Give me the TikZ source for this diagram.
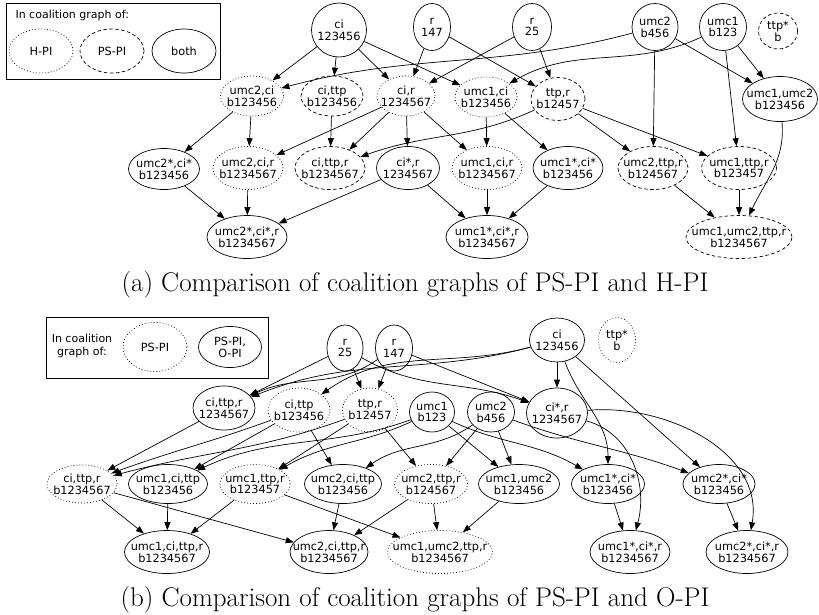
\documentclass[tikz,border=0pt]{standalone}
\usepackage{fontspec}
\newfontfamily\graphfont{DejaVu Sans}
\usetikzlibrary{arrows.meta, shapes.geometric}
\tikzset{
  coal/.style={ellipse,draw,align=center,inner xsep=-20pt,inner ysep=-8pt,minimum width=#1pt,minimum height=43pt,line width=0.7pt,font=\graphfont\fontsize{11.3}{11.8}\selectfont},
  coal/.default=68,
  root/.style={coal=#1,minimum height=47pt},
  root/.default=44,
  dotty/.style={dash pattern=on 0.8pt off 2.2pt},
  dashy/.style={dash pattern=on 3.5pt off 2.5pt},
  key/.style={font=\graphfont\fontsize{11}{13}\selectfont,align=center},
  caption/.style={font=\fontsize{27}{30}\selectfont,anchor=base,inner sep=0pt},
  line/.style={-{Triangle[length=8pt,width=6pt]},line width=0.7pt}
}

\begin{document}
\begin{tikzpicture}[x=1pt,y=-1pt]
\useasboundingbox (0,0) rectangle (819,614);

\draw[line width=0.7pt] (6,3) rectangle (220,79);
\node[key,anchor=west] (a-key) at (12,15) {In coalition graph of:};
\node[coal=64,minimum height=44pt,dotty] (a-hpi) at (41,51) {H-PI};
\node[coal=64,minimum height=44pt,dashy] (a-pspi) at (112,51) {PS-PI};
\node[coal=64,minimum height=44pt] (a-both) at (184,51) {both};

\node[root=55,minimum height=54pt] (a-ci) at (339,30) {ci\\123456};
\node[root=37] (a-r147) at (432,27) {r\\147};
\node[root=39] (a-r25) at (532,27) {r\\25};
\node[root=46] (a-umc2) at (655,27) {umc2\\b456};
\node[root=47] (a-umc1) at (723,27) {umc1\\b123};
\node[root=39,minimum height=36pt,dashy] (a-ttps) at (778,31) {ttp*\\b};

\node[coal=63,minimum height=40pt,dotty] (a-umc2-ci) at (252,96) {umc2,ci\\b123456};
\node[coal=62,minimum height=40pt,dashy] (a-ci-ttp) at (332,96) {ci,ttp\\b123456};
\node[coal=58,minimum height=40pt,dotty] (a-ci-r) at (406,96) {ci,r\\1234567};
\node[coal=62,minimum height=40pt,dotty] (a-umc1-ci) at (486,97) {umc1,ci\\b123456};
\node[coal=54,dashy] (a-ttp-r) at (558,99) {ttp,r\\b12457};
\node[coal=75,minimum height=45pt] (a-umc1-umc2) at (780,99) {umc1,umc2\\b123456};

\node[coal=71,minimum height=41pt] (a-umc2s-cis) at (164,169) {umc2*,ci*\\b123456};
\node[coal=70,dotty] (a-umc2-ci-r) at (248,168) {umc2,ci,r\\b1234567};
\node[coal=70,dashy] (a-ci-ttp-r) at (330,168) {ci,ttp,r\\b1234567};
\node[coal=63] (a-cis-r) at (408,168) {ci*,r\\1234567};
\node[coal=70,dotty] (a-umc1-ci-r) at (487,168) {umc1,ci,r\\b1234567};
\node[coal=70] (a-umc1s-cis) at (568,168) {umc1*,ci*\\b123456};
\node[coal=70,dashy] (a-umc2-ttp-r) at (653,168) {umc2,ttp,r\\b124567};
\node[coal=75,dashy] (a-umc1-ttp-r) at (739,168) {umc1,ttp,r\\b123457};

\node[coal=80] (a-umc2s-cis-r) at (247,237) {umc2*,ci*,r\\b1234567};
\node[coal=82] (a-umc1s-cis-r) at (487,237) {umc1*,ci*,r\\b1234567};
\node[coal=106,dashy] (a-umc1-umc2-ttp-r) at (739,237) {umc1,umc2,ttp,r\\b1234567};

\node[caption] (a-cap) at (415,291) {(a) Comparison of coalition graphs of PS-PI and H-PI};

\draw[line] (a-ci) -- (a-umc2-ci);
\draw[line] (a-ci) -- (a-ci-ttp);
\draw[line] (a-ci) -- (a-ci-r);
\draw[line] (a-ci) -- (a-umc1-ci);
\draw[line] (a-r147) -- (a-ci-r);
\draw[line] (a-r147) -- (a-ttp-r);
\draw[line] (a-r25) -- (a-ci-r);
\draw[line] (a-r25) -- (a-ttp-r);
\draw[line] (a-umc2) to[out=195,in=15] (a-umc2-ci);
\draw[line] (a-umc1) to[out=205,in=30] (a-umc1-ci);
\draw[line] (a-umc2) -- (a-umc2-ttp-r);
\draw[line] (a-umc2) -- (a-umc1-umc2);
\draw[line] (a-umc1) -- (a-umc1-umc2);
\draw[line] (a-umc1) -- (a-umc1-ttp-r);
\draw[line] (a-umc2-ci) -- (a-umc2s-cis);
\draw[line] (a-umc2-ci) -- (a-umc2-ci-r);
\draw[line] (a-ci-ttp) -- (a-ci-ttp-r);
\draw[line] (a-ci-r) -- (a-umc2-ci-r);
\draw[line] (a-ci-r) -- (a-ci-ttp-r);
\draw[line] (a-ci-r) -- (a-cis-r);
\draw[line] (a-ci-r) -- (a-umc1-ci-r);
\draw[line] (a-umc1-ci) -- (a-umc1-ci-r);
\draw[line] (a-umc1-ci) -- (a-umc1s-cis);
\draw[line] (a-ttp-r) to[out=205,in=20] (a-ci-ttp-r);
\draw[line] (a-ttp-r) -- (a-umc2-ttp-r);
\draw[line] (a-ttp-r) -- (a-umc1-ttp-r);
\draw[line] (a-umc2s-cis) -- (a-umc2s-cis-r);
\draw[line] (a-umc2-ci-r) -- (a-umc2s-cis-r);
\draw[line] (a-cis-r) -- (a-umc2s-cis-r);
\draw[line] (a-cis-r) -- (a-umc1s-cis-r);
\draw[line] (a-umc1-ci-r) -- (a-umc1s-cis-r);
\draw[line] (a-umc1s-cis) -- (a-umc1s-cis-r);
\draw[line] (a-umc2-ttp-r) -- (a-umc1-umc2-ttp-r);
\draw[line] (a-umc1-ttp-r) -- (a-umc1-umc2-ttp-r);
\draw[line] (a-umc1-umc2) to[out=-85,in=65] (a-umc1-umc2-ttp-r);

\draw[line width=0.7pt] (46,317) rectangle (268,378);
\node[key] (b-key) at (82,346) {In coalition\\graph of:};
\node[coal=64,minimum height=49pt,dotty] (b-ps) at (155,347) {PS-PI};
\node[coal=63,minimum height=41pt] (b-both) at (230,347) {PS-PI,\\O-PI};

\node[root=36,minimum height=46pt] (b-r25) at (345,348) {r\\25};
\node[root=37,minimum height=46pt] (b-r147) at (394,348) {r\\147};
\node[root=55,minimum height=44pt] (b-ci) at (557,340) {ci\\123456};
\node[root=37,minimum height=45pt,dotty] (b-ttps) at (617,340) {ttp*\\b};

\node[coal=62,minimum height=44pt] (b-ci-ttp-r) at (224,408) {ci,ttp,r\\1234567};
\node[coal=62,minimum height=44pt,dotty] (b-ci-ttp) at (299,410) {ci,ttp\\b123456};
\node[coal=55,minimum height=44pt,dotty] (b-ttp-r) at (370,410) {ttp,r\\b12457};
\node[root=45,minimum height=40pt] (b-umc1) at (432,412) {umc1\\b123};
\node[root=47,minimum height=40pt] (b-umc2) at (491,412) {umc2\\b456};
\node[coal=61,minimum height=50pt] (b-cis-r) at (557,413) {ci*,r\\1234567};

\node[coal=70,minimum height=38pt,dotty] (b-ci-ttp-r2) at (82,484) {ci,ttp,r\\b1234567};
\node[coal=79,minimum height=39pt] (b-umc1-ci-ttp) at (168,484) {umc1,ci,ttp\\b123456};
\node[coal=70,minimum height=39pt,dotty] (b-umc1-ttp-r) at (255,484) {umc1,ttp,r\\b123457};
\node[coal=77,minimum height=39pt] (b-umc2-ci-ttp) at (343,484) {umc2,ci,ttp\\b123456};
\node[coal=73,minimum height=39pt,dotty] (b-umc2-ttp-r) at (431,484) {umc2,ttp,r\\b124567};
\node[coal=81,minimum height=39pt] (b-umc1-umc2) at (519,484) {umc1,umc2\\b123456};
\node[coal=73,minimum height=39pt] (b-umc1s-cis) at (608,484) {umc1*,ci*\\b123456};
\node[coal=72,minimum height=39pt] (b-umc2s-cis) at (719,484) {umc2*,ci*\\b123456};

\node[coal=85] (b-umc1-ci-ttp-r) at (167,552) {umc1,ci,ttp,r\\b1234567};
\node[coal=78] (b-umc2-ci-ttp-r) at (329,552) {umc2,ci,ttp,r\\b1234567};
\node[coal=105,dotty] (b-umc1-umc2-ttp-r) at (440,552) {umc1,umc2,ttp,r\\b1234567};
\node[coal=80] (b-umc1s-cis-r) at (630,552) {umc1*,ci*,r\\b1234567};
\node[coal=82] (b-umc2s-cis-r) at (747,552) {umc2*,ci*,r\\b1234567};

\node[caption] (b-cap) at (415,606) {(b) Comparison of coalition graphs of PS-PI and O-PI};

\draw[line] (b-r25) -- (b-ci-ttp-r);
\draw[line] (b-r147) to[out=215,in=25] (b-ci-ttp-r);
\draw[line] (b-ci) to[out=195,in=22] (b-ci-ttp-r);
\draw[line] (b-ci) to[out=195,in=35] (b-ci-ttp);
\draw[line] (b-r25) -- (b-ttp-r);
\draw[line] (b-r147) -- (b-ttp-r);
\draw[line] (b-r147) -- (b-cis-r);
\draw[line] (b-r25) to[out=-30,in=160] (b-cis-r);
\draw[line] (b-ci) -- (b-cis-r);
\draw[line] (b-ci) to[out=-70,in=90] (b-umc1s-cis);
\draw[line] (b-ci) -- (b-umc2s-cis);
\draw[line] (b-cis-r) to[out=-15,in=75] (b-umc1s-cis-r);
\draw[line] (b-cis-r) to[out=5,in=80] (b-umc2s-cis-r);
\draw[line] (b-ci-ttp-r) -- (b-ci-ttp-r2);
\draw[line] (b-ci-ttp) to[out=200,in=20] (b-ci-ttp-r2);
\draw[line] (b-ttp-r) to[out=200,in=15] (b-ci-ttp-r2);
\draw[line] (b-ci-ttp) -- (b-umc1-ci-ttp);
\draw[line] (b-ci-ttp) -- (b-umc2-ci-ttp);
\draw[line] (b-ttp-r) -- (b-umc1-ttp-r);
\draw[line] (b-ttp-r) -- (b-umc2-ttp-r);
\draw[line] (b-umc1) to[out=200,in=25] (b-umc1-ci-ttp);
\draw[line] (b-umc1) to[out=205,in=30] (b-umc1-ttp-r);
\draw[line] (b-umc1) -- (b-umc1-umc2);
\draw[line] (b-umc1) to[out=-25,in=150] (b-umc1s-cis);
\draw[line] (b-umc2) to[out=215,in=35] (b-umc2-ci-ttp);
\draw[line] (b-umc2) -- (b-umc2-ttp-r);
\draw[line] (b-umc2) -- (b-umc1-umc2);
\draw[line] (b-umc2) to[out=-20,in=160] (b-umc2s-cis);
\draw[line] (b-ci-ttp-r2) -- (b-umc1-ci-ttp-r);
\draw[line] (b-ci-ttp-r2) -- (b-umc2-ci-ttp-r);
\draw[line] (b-umc1-ci-ttp) -- (b-umc1-ci-ttp-r);
\draw[line] (b-umc1-ttp-r) -- (b-umc1-ci-ttp-r);
\draw[line] (b-umc1-ttp-r) -- (b-umc1-umc2-ttp-r);
\draw[line] (b-umc2-ci-ttp) -- (b-umc2-ci-ttp-r);
\draw[line] (b-umc2-ttp-r) -- (b-umc2-ci-ttp-r);
\draw[line] (b-umc2-ttp-r) -- (b-umc1-umc2-ttp-r);
\draw[line] (b-umc1-umc2) -- (b-umc1-umc2-ttp-r);
\draw[line] (b-umc1s-cis) -- (b-umc1s-cis-r);
\draw[line] (b-umc2s-cis) -- (b-umc2s-cis-r);
\end{tikzpicture}
\end{document}
